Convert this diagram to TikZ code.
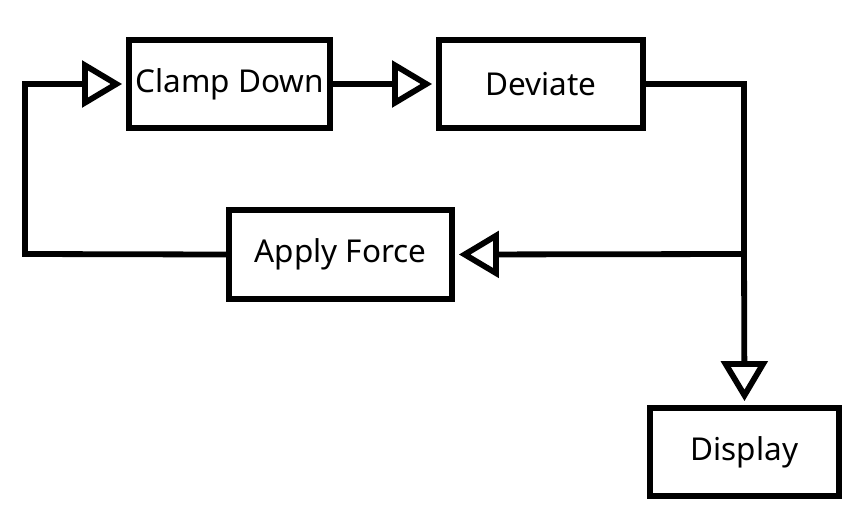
\documentclass[tikz,border=0pt]{standalone}
\usepackage{fontspec}
\setmainfont{Noto Sans}
\usetikzlibrary{arrows.meta}
\begin{document}
\begin{tikzpicture}[x=1pt,y=-1pt,
  box/.style={draw,line width=5.8pt,minimum height=88pt,inner sep=0pt,font=\fontsize{31.5}{38}\selectfont},
  conn/.style={line width=5.8pt},
  arr/.style={conn,-{Triangle[open,length=40pt,width=46pt]},shorten >=4pt}]
\useasboundingbox (0,0) rectangle (864,520);
\node[box,minimum width=201pt] (clamp) at (229.5,84) {Clamp Down};
\node[box,minimum width=204pt] (dev) at (541,84) {Deviate};
\node[box,minimum width=223pt,minimum height=89pt] (apply) at (340.5,254.5) {Apply Force};
\node[box,minimum width=189pt] (disp) at (744.5,452) {Display};
\coordinate (j) at (744,254);
\draw[arr] (apply.west) -- (25,254) -- (25,84) -- (clamp.west);
\draw[arr] (clamp.east) -- (dev.west);
\draw[conn] (dev.east) -- (744,84) -- (j);
\draw[arr] (j) -- (apply.east);
\draw[arr] (j) -- (disp.north);
\end{tikzpicture}
\end{document}
